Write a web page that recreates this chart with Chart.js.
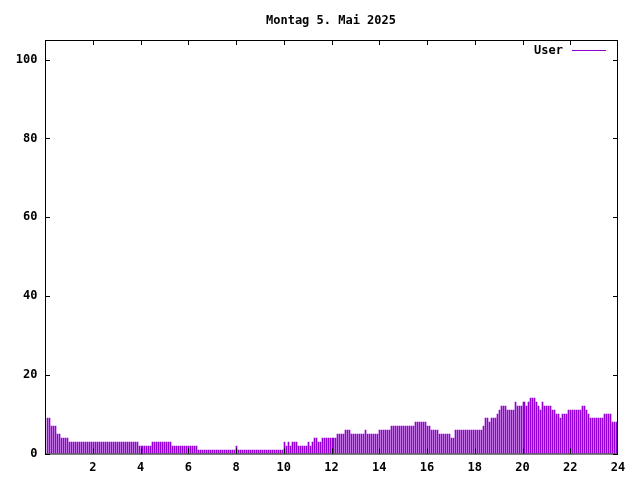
<!DOCTYPE html>
<html>
<head>
<meta charset="utf-8">
<script src="https://cdn.jsdelivr.net/npm/chart.js@4.4.0/dist/chart.umd.min.js"></script>
<style>
  html, body { margin: 0; padding: 0; background: #fff; }
  #wrap { width: 640px; height: 480px; }
</style>
</head>
<body>
<div id="wrap"><canvas id="chart" width="640" height="480"></canvas></div>
<script>
const chartTitle = "Montag 5. Mai 2025";
const seriesName = "User";
const barColor = "#9400d3";

// one sample every 5 minutes, 00:05 .. 23:55 (one row = one hour)
const firstSampleMin = 5;
const sampleStepMin = 5;
const users = [
  9, 9, 7, 7, 7, 5, 5, 4, 4, 4, 4, 3,
  3, 3, 3, 3, 3, 3, 3, 3, 3, 3, 3, 3,
  3, 3, 3, 3, 3, 3, 3, 3, 3, 3, 3, 3,
  3, 3, 3, 3, 3, 3, 3, 3, 3, 3, 2, 2,
  2, 2, 2, 2, 2, 3, 3, 3, 3, 3, 3, 3,
  3, 3, 3, 2, 2, 2, 2, 2, 2, 2, 2, 2,
  2, 2, 2, 2, 1, 1, 1, 1, 1, 1, 1, 1,
  1, 1, 1, 1, 1, 1, 1, 1, 1, 1, 1, 2,
  1, 1, 1, 1, 1, 1, 1, 1, 1, 1, 1, 1,
  1, 1, 1, 1, 1, 1, 1, 1, 1, 1, 1, 3,
  2, 3, 2, 3, 3, 3, 2, 2, 2, 2, 2, 3,
  2, 3, 4, 4, 3, 3, 4, 4, 4, 4, 4, 4,
  4, 4, 5, 5, 5, 5, 6, 6, 6, 5, 5, 5,
  5, 5, 5, 5, 6, 5, 5, 5, 5, 5, 5, 6,
  6, 6, 6, 6, 6, 7, 7, 7, 7, 7, 7, 7,
  7, 7, 7, 7, 7, 8, 8, 8, 8, 8, 8, 7,
  7, 6, 6, 6, 6, 5, 5, 5, 5, 5, 5, 4,
  4, 6, 6, 6, 6, 6, 6, 6, 6, 6, 6, 6,
  6, 6, 6, 7, 9, 9, 8, 9, 9, 9, 10, 11,
  12, 12, 12, 11, 11, 11, 11, 13, 12, 12, 12, 13,
  13, 12, 13, 14, 14, 14, 13, 12, 11, 13, 12, 12,
  12, 12, 11, 11, 10, 10, 9, 10, 10, 10, 11, 11,
  11, 11, 11, 11, 11, 12, 12, 11, 10, 9, 9, 9,
  9, 9, 9, 9, 10, 10, 10, 10, 8, 8, 8
];

const xTickHours = [0, 2, 4, 6, 8, 10, 12, 14, 16, 18, 20, 22, 24];
const yTickValues = [0, 20, 40, 60, 80, 100];

const points = users.map((v, i) => ({
  x: (firstSampleMin + i * sampleStepMin) / 60,
  y: v
}));

const font = { family: "'DejaVu Sans Mono', monospace", size: 12, weight: "bold", lineHeight: 1.2 };
const fontCss = "bold 12px 'DejaVu Sans Mono', monospace";

// gnuplot style: title over the whole canvas, frame, inward ticks, key inside the plot
const gnuplotFrame = {
  id: "gnuplotFrame",
  beforeDatasetsDraw(chart) {
    // snap the 1px impulses to whole pixels
    chart.getDatasetMeta(0).data.forEach(bar => {
      bar.x = Math.round(bar.x) + 0.5;
      bar.y = Math.round(bar.y);
    });
  },
  afterDraw(chart) {
    const { ctx, chartArea: a, scales } = chart;
    const t = 5;
    ctx.save();
    ctx.strokeStyle = "#000";
    ctx.lineWidth = 1;
    ctx.beginPath();
    xTickHours.forEach(h => {
      if (h === 0 || h === 24) return;
      const px = Math.round(scales.x.getPixelForValue(h)) + 0.5;
      ctx.moveTo(px, a.bottom); ctx.lineTo(px, a.bottom - t);
      ctx.moveTo(px, a.top); ctx.lineTo(px, a.top + t);
    });
    yTickValues.forEach(v => {
      const py = Math.round(scales.y.getPixelForValue(v)) + 0.5;
      ctx.moveTo(a.left, py); ctx.lineTo(a.left + t, py);
      ctx.moveTo(a.right, py); ctx.lineTo(a.right - t, py);
    });
    ctx.stroke();
    ctx.strokeRect(a.left + 0.5, a.top + 0.5, a.right - a.left - 1, a.bottom - a.top);

    ctx.font = fontCss;
    ctx.fillStyle = "#000";
    ctx.textBaseline = "middle";

    // title
    ctx.textAlign = "center";
    ctx.fillText(chartTitle, 331, 21);

    // key
    ctx.textAlign = "right";
    ctx.fillText(chart.data.datasets[0].label, 563, 51);
    ctx.strokeStyle = barColor;
    ctx.beginPath();
    ctx.moveTo(572, 50.5);
    ctx.lineTo(606, 50.5);
    ctx.stroke();
    ctx.restore();
  }
};

new Chart(document.getElementById("chart"), {
  type: "bar",
  data: {
    datasets: [{
      label: seriesName,
      data: points,
      backgroundColor: barColor,
      borderWidth: 0,
      barThickness: 1
    }]
  },
  options: {
    responsive: false,
    animation: false,
    layout: { padding: { left: 0, right: 22, top: 40, bottom: 0 } },
    plugins: {
      legend: { display: false },
      tooltip: { enabled: false },
      title: { display: false }
    },
    scales: {
      x: {
        type: "linear",
        min: 0,
        max: 24,
        offset: false,
        grid: { display: false, drawTicks: false, tickLength: 0, offset: false },
        border: { display: false },
        afterBuildTicks: s => { s.ticks = xTickHours.map(v => ({ value: v })); },
        afterFit: s => { s.height = 26.5; },
        ticks: {
          color: "#000",
          font: font,
          padding: 7,
          maxRotation: 0,
          autoSkip: false,
          callback: v => (v === 0 ? "" : String(v))
        }
      },
      y: {
        min: 0,
        max: 105,
        grid: { display: false, drawTicks: false, tickLength: 0 },
        border: { display: false },
        afterBuildTicks: s => { s.ticks = yTickValues.map(v => ({ value: v })); },
        afterFit: s => { s.width = 45; },
        ticks: {
          color: "#000",
          font: font,
          padding: 7.5
        }
      }
    }
  },
  plugins: [gnuplotFrame]
});
</script>
</body>
</html>
